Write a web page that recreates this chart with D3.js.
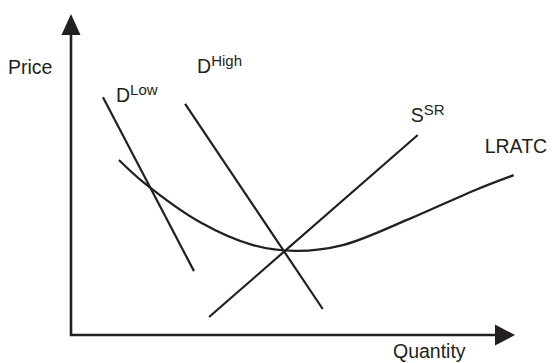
<!DOCTYPE html>
<html>
<head>
<meta charset="utf-8">
<script src="https://cdn.jsdelivr.net/npm/d3@7"></script>
<style>
  html, body { margin: 0; padding: 0; background: #fff; }
  svg { display: block; }
  text { font-family: "Liberation Sans", Arial, sans-serif; fill: #231f20; }
</style>
</head>
<body>
<div id="chart"></div>
<script>
// curve endpoints in (quantity, price) units, axes run 0..10
var demandLow = [[0.72, 7.41], [2.77, 1.99]];
var demandHigh = [[2.57, 7.20], [5.67, 0.81]];
var supplySR = [[3.11, 0.56], [7.81, 6.23]];
var lratc = [
    [1.08, 5.45], [1.62, 4.77], [2.90, 3.52], [4.10, 2.80], [5.06, 2.62],
    [6.12, 2.80], [7.61, 3.61], [9.11, 4.52], [9.97, 4.98]
];
var axisLabels = ["Price", "Quantity"];

var w = 552;
var h = 363;
var ink = "#231f20";

var svg = d3.select("#chart").append("svg").attr("width", w).attr("height", h);

// origin of the axes sits at (71, 335), arrow tips at x=515 / y=14
var x = d3.scaleLinear().domain([0, 10]).range([71, 515]);
var y = d3.scaleLinear().domain([0, 10]).range([335, 14]);

var line = d3.line().x(d => x(d[0])).y(d => y(d[1]));

// axes as two lines with filled arrow heads
var axes = svg.append("g");
axes.append("path")
    .attr("d", line([[0, 9.4], [0, 0], [9.6, 0]]))
    .attr("fill", "none")
    .attr("stroke", ink)
    .attr("stroke-width", 2.6);

// up arrow
axes.append("path")
    .attr("d", "M" + x(0) + "," + y(10) + "L" + (x(0) - 9.5) + "," + (y(10) + 21) + "L" + (x(0) + 9.5) + "," + (y(10) + 21) + "Z")
    .attr("fill", ink);
// right arrow
axes.append("path")
    .attr("d", "M" + x(10) + "," + y(0) + "L" + (x(10) - 20) + "," + (y(0) - 10.5) + "L" + (x(10) - 20) + "," + (y(0) + 10.5) + "Z")
    .attr("fill", ink);

axes.append("text")
    .attr("x", 8).attr("y", 74)
    .style("font-size", "19.5px")
    .text(axisLabels[0]);
axes.append("text")
    .attr("x", 393).attr("y", 358)
    .style("font-size", "19.5px")
    .text(axisLabels[1]);

// straight demand / supply lines
[demandLow, demandHigh, supplySR].forEach(function(seg) {
    svg.append("path")
        .attr("d", line(seg))
        .attr("fill", "none")
        .attr("stroke", ink)
        .attr("stroke-width", 2.2);
});

// long run average total cost curve
svg.append("path")
    .attr("d", line.curve(d3.curveCatmullRom)(lratc))
    .attr("fill", "none")
    .attr("stroke", ink)
    .attr("stroke-width", 2.2);

// labels with superscripts
function label(px, py, main, sup) {
    var t = svg.append("text").attr("x", px).attr("y", py).style("font-size", "19.5px");
    t.append("tspan").text(main);
    if (sup) {
        t.append("tspan").attr("dy", -7).style("font-size", "15px").text(sup);
    }
}

label(x(demandLow[0][0]) + 13, y(demandLow[0][1]) + 5, "D", "Low");
label(x(demandHigh[0][0]) + 12, y(demandHigh[0][1]) - 31, "D", "High");
label(x(supplySR[1][0]) - 7, y(supplySR[1][1]) - 13, "S", "SR");
label(x(lratc[lratc.length - 1][0]) - 29, y(lratc[lratc.length - 1][1]) - 22, "LRATC");
</script>
</body>
</html>
